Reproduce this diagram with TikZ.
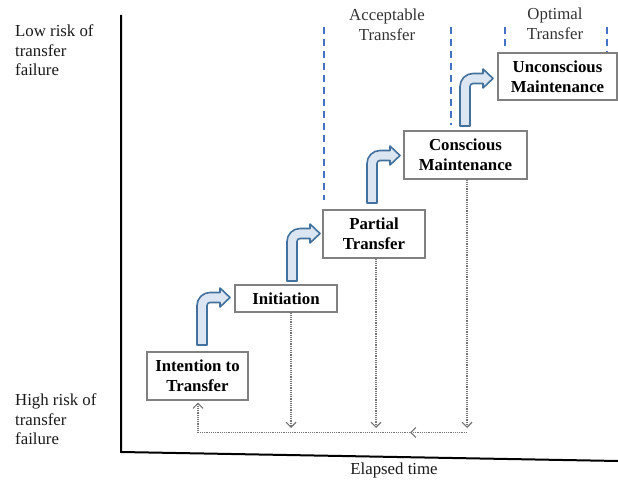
\documentclass[tikz,border=0pt]{standalone}
\usepackage{fontspec}
\setmainfont{Liberation Serif}
\usepackage{xcolor}
\usetikzlibrary{arrows.meta}

\definecolor{stepfill}{HTML}{DCE6F2}
\definecolor{stepline}{HTML}{41719C}
\definecolor{zoneblue}{HTML}{4472C4}

% bent block arrow between two stages (origin = bottom left of the stem)
\tikzset{
  bentarrow/.pic={
    \draw[stepline, fill=stepfill, line width=1.6pt, line join=round]
      (0,0) -- (0,39.5) arc[start angle=180, end angle=90, radius=13]
      -- (23,52.5) -- (23,57) -- (33,47.5) -- (23,38) -- (23,42.5)
      -- (13,42.5) arc[start angle=90, end angle=180, radius=3]
      -- (10,0) -- cycle;
  }
}

\begin{document}
\begin{tikzpicture}[
    x=1pt, y=1pt,
    stage/.style={rectangle, draw=black!50, line width=1.2pt, fill=white, align=center, inner sep=0pt, font=\fontsize{16.8}{20}\selectfont\bfseries},
    sidetext/.style={align=left, inner sep=0pt, text=black!90, font=\fontsize{16.8}{19.5}\selectfont},
    zonetext/.style={align=center, inner sep=0pt, text=black!80, font=\fontsize{16.8}{20}\selectfont},
    zone/.style={zoneblue, line width=2pt, dash pattern=on 7pt off 5pt},
    flow/.style={-{Straight Barb[length=5pt, width=10pt, line width=1.1pt]}, black!55, line width=1.2pt, dash pattern=on 1.2pt off 1pt},
    axis/.style={line width=2pt}
]
\useasboundingbox (0,0) rectangle (618,482);

% axes
\draw[axis] (121,467) -- (121,30) -- (618,21);

% zone boundaries
\draw[zone] (324,455) -- (324,282);
\draw[zone] (451,455) -- (451,357);
\draw[zone] (505,455) -- (505,432);
\draw[zone] (607,455) -- (607,430);

\node[zonetext, anchor=north] (accept) at (387,473) {Acceptable\\Transfer};
\node[zonetext, anchor=north] (optimal) at (555,474.5) {Optimal\\Transfer};

\node[sidetext, anchor=north west] (lowrisk) at (15,457.5) {Low risk of\\transfer\\failure};
\node[sidetext, anchor=north west] (highrisk) at (15,88.5) {High risk of\\transfer\\failure};
\node[sidetext, anchor=base] (time) at (394,8) {Elapsed time};

% stages
\node[stage, minimum width=101pt, minimum height=48pt] (intent) at (197.5,106) {Intention to\\Transfer};
\node[stage, minimum width=102pt, minimum height=27pt] (init) at (286,183.5) {Initiation};
\node[stage, minimum width=102pt, minimum height=48pt] (partial) at (374,248) {Partial\\Transfer};
\node[stage, minimum width=123pt, minimum height=48pt] (conscious) at (465.5,327) {Conscious\\Maintenance};
\node[stage, minimum width=119pt, minimum height=47pt] (unconscious) at (557.5,405.5) {Unconscious\\Maintenance};

\pic at (197,137) {bentarrow};
\pic at (287,201) {bentarrow};
\pic at (367,279) {bentarrow};
\pic at (460,356) {bentarrow};

% relapse paths
\coordinate (tips) at (0,54);
\coordinate (ret) at (410,49.5);
\draw[flow] ([xshift=5pt]init.south) -- ([xshift=5pt]init.south |- tips);
\draw[flow] ([xshift=2pt]partial.south) -- ([xshift=2pt]partial.south |- tips);
\draw[flow] ([xshift=1.5pt]conscious.south) -- ([xshift=1.5pt]conscious.south |- tips);
\draw[flow] ([xshift=1.5pt]conscious.south |- ret) -- (ret);
\draw[flow, shorten >=2pt] (ret) -| ([xshift=0.5pt]intent.south);
\end{tikzpicture}
\end{document}
